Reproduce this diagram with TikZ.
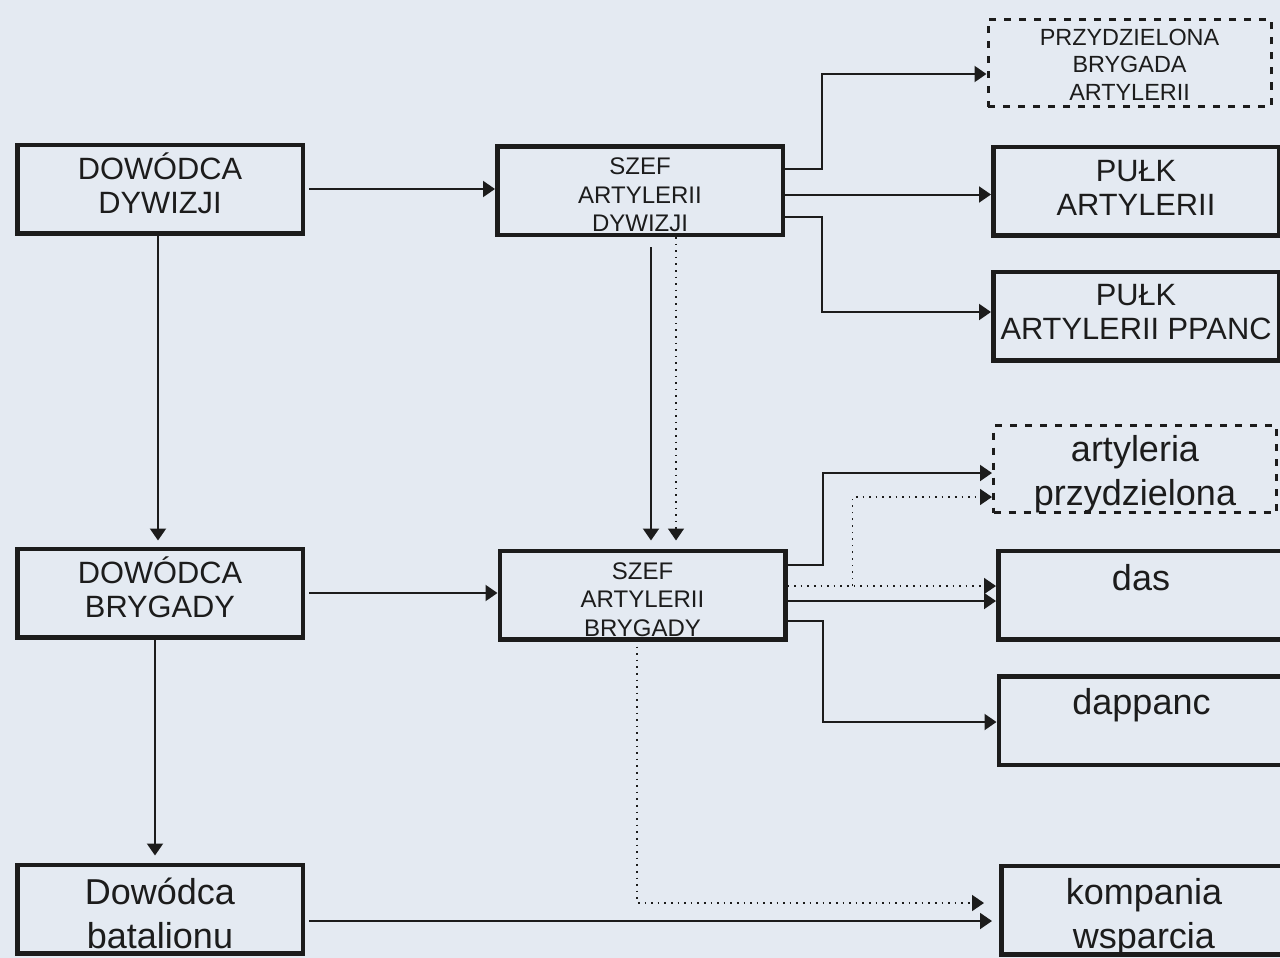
\documentclass[tikz,border=0pt]{standalone}
\usepackage{fontspec}
\setmainfont{Liberation Sans}
\usepackage{tikz}
\usetikzlibrary{arrows.meta, positioning, calc}
\definecolor{mline}{HTML}{1C1C1C}
\definecolor{mpaper}{HTML}{E4EAF2}
\tikzset{
  obox/.style={draw=mline, text=mline, line width=4.5pt, minimum width=285.5pt,
               minimum height=88.5pt, inner sep=0pt, align=center},
  dashbox/.style={draw=mline, text=mline, line width=3pt, dash pattern=on 7pt off 8pt,
                  minimum width=283pt, minimum height=87pt, inner sep=0pt, align=center},
  cfont/.style={font=\fontsize{30.8}{33.5}\selectfont, text height=48pt, text depth=0pt},
  sfont/.style={font=\fontsize{24}{28.5}\selectfont, text height=82pt, text depth=0pt},
  lfont/.style={font=\fontsize{36}{44}\selectfont, text depth=0pt},
  arr/.style={-{Triangle[length=12pt,width=16pt]}, line width=2pt, mline},
  darr/.style={arr, line width=1.6pt, dash pattern=on 1.6pt off 5pt},
}

\begin{document}
\begin{tikzpicture}[x=1pt, y=-1pt]
  \useasboundingbox (0,0) rectangle (1280,958);
  \fill[mpaper] (0,0) rectangle (1280,958);

  % commanders
  \node[obox, cfont] (dd) at (160,189) {DOWÓDCA\\DYWIZJI};
  \node[obox, cfont] (db) at (160,593) {DOWÓDCA\\BRYGADY};
  \node[obox, lfont, text height=79pt] (dbat) at (160,909) {Dowódca\\batalionu};

  % artillery chiefs
  \node[obox, sfont] (sad) at (640,190.5) {SZEF\\ARTYLERII\\DYWIZJI};
  \node[obox, sfont] (sab) at (642.5,595) {SZEF\\ARTYLERII\\BRYGADY};

  % units
  \node[dashbox, sfont, font=\fontsize{23.4}{27.5}\selectfont, text height=74pt]
    (pba) at (1129.5,63) {PRZYDZIELONA\\BRYGADA\\ARTYLERII};
  \node[obox, cfont] (pa) at (1136,191) {PUŁK\\ARTYLERII};
  \node[obox, cfont, text height=46pt] (pap) at (1136,316) {PUŁK\\ARTYLERII PPANC};
  \node[dashbox, lfont, text height=72pt] (ap) at (1135,469) {artyleria\\przydzielona};
  \node[obox, lfont, text height=26pt, text depth=36pt] (das) at (1141,595) {das};
  \node[obox, lfont, text height=26pt, text depth=38pt] (dpp) at (1141.5,720.5) {dappanc};
  \node[obox, lfont, text height=77pt] (kw) at (1144,910) {kompania\\wsparcia};

  % command chain
  \draw[arr, shorten <=4pt] (dd.east) -- (dd.east -| sad.west);
  \draw[arr, shorten >=6pt] ([xshift=-2pt]dd.south) -- ([xshift=-2pt]dd.south |- db.north);
  \draw[arr, shorten <=4pt] (db.east) -- (db.east -| sab.west);
  \draw[arr, shorten >=7pt] ([xshift=-5pt]db.south) -- ([xshift=-5pt]db.south |- dbat.north);
  \draw[arr, shorten <=4pt, shorten >=7pt] ([yshift=-12pt]dbat.east) -- ([yshift=-12pt]dbat.east -| kw.west);

  % division artillery
  \draw[arr, shorten <=10pt, shorten >=8pt] ([xshift=11pt]sad.south) -- ([xshift=11pt]sad.south |- sab.north);
  \draw[darr, shorten >=8pt] ([xshift=36pt]sad.south) -- ([xshift=36pt]sad.south |- sab.north);
  \draw[arr] ([yshift=22pt]sad.east) -- ++(37,0) |- ([yshift=-11pt]pba.west);
  \draw[arr] ([yshift=-4pt]sad.east) -- ([yshift=-4pt]sad.east -| pa.west);
  \draw[arr] ([yshift=-26pt]sad.east) -- ++(37,0) |- ([yshift=4pt]pap.west);

  % brigade artillery
  \draw[arr] ([yshift=30pt]sab.east) -- ++(35,0) |- ([yshift=-4pt]ap.west);
  \draw[darr] ([yshift=9pt]sab.east) -- ([yshift=9pt]sab.east -| das.west);
  \draw[darr] ([xshift=65pt, yshift=9pt]sab.east) |- ([yshift=-28pt]ap.west);
  \draw[arr] ([yshift=-6pt]sab.east) -- ([yshift=-6pt]sab.east -| das.west);
  \draw[arr] ([yshift=-26pt]sab.east) -- ++(35,0) |- ([yshift=-1.5pt]dpp.west);
  \draw[darr, shorten <=5pt, shorten >=15pt] ([xshift=-5.5pt]sab.south) |- ([yshift=7pt]kw.west);
\end{tikzpicture}
\end{document}
